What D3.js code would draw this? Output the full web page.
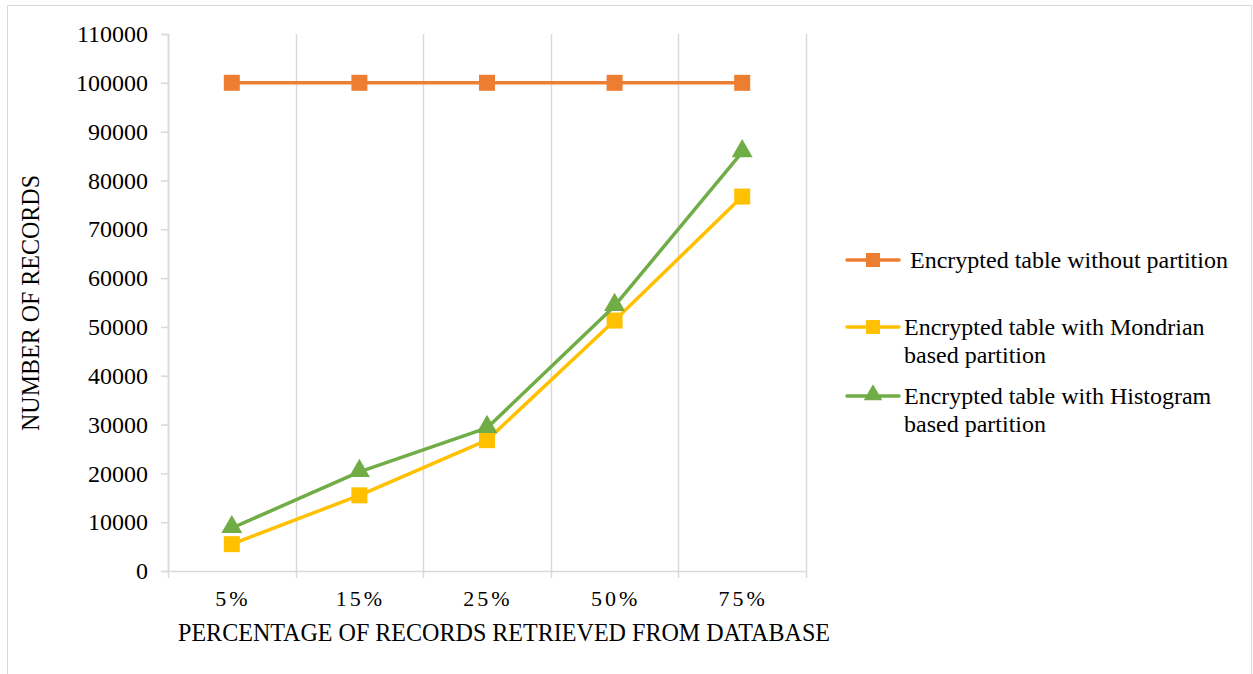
<!DOCTYPE html>
<html>
<head>
<meta charset="utf-8">
<script src="https://cdn.jsdelivr.net/npm/d3@7"></script>
<style>
  body { margin: 0; background: #fff; }
  text { font-family: "Liberation Serif", "Times New Roman", serif; fill: #000; }
</style>
</head>
<body>
<svg id="chart" width="1253" height="674"></svg>
<script>
// data
var categories = ["5%", "15%", "25%", "50%", "75%"];
var withoutPartition = [100000, 100000, 100000, 100000, 100000];
var mondrian = [5500, 15500, 26800, 51300, 76700];
var histogram = [8800, 20300, 29300, 54300, 85800];
var yTicks = [0, 10000, 20000, 30000, 40000, 50000, 60000, 70000, 80000, 90000, 100000, 110000];

var seriesNames = [
  ["Encrypted table without partition"],
  ["Encrypted table with Mondrian", "based partition"],
  ["Encrypted table with Histogram", "based partition"]
];
var colors = ["#ED7D31", "#FFC000", "#70AD47"];
var markers = ["square", "square", "triangle"];

var series = [withoutPartition, mondrian, histogram].map(function(vals, i) {
  return { name: seriesNames[i], color: colors[i], marker: markers[i],
           values: vals.map(function(v, j) { return { cat: categories[j], value: v }; }) };
});

var margin = {top: 34, right: 447, bottom: 103, left: 168},
    width = 1253 - margin.left - margin.right,
    height = 674 - margin.top - margin.bottom;

var svg = d3.select("#chart");

// outer frame
svg.append("rect")
  .attr("x", 7.5).attr("y", 5.5)
  .attr("width", 1253 - 9).attr("height", 674 - 4)
  .attr("fill", "none").attr("stroke", "#d9d9d9").attr("stroke-width", 1);

var g = svg.append("g")
  .attr("transform", "translate(" + margin.left + "," + margin.top + ")");

var x = d3.scaleBand().domain(categories).range([0, width]);
var y = d3.scaleLinear().domain([0, 110000]).range([height, 0]);

// vertical gridlines at category boundaries
var bounds = categories.map(function(c) { return x(c); }).concat([width]);
g.selectAll(".vgrid")
  .data(bounds)
  .enter().append("line")
  .attr("class", "vgrid")
  .attr("x1", function(d) { return Math.round(d) + 0.5; })
  .attr("x2", function(d) { return Math.round(d) + 0.5; })
  .attr("y1", 0).attr("y2", height + 7)
  .attr("stroke", "#d9d9d9").attr("stroke-width", 1.5);

// y axis
var yAxis = g.append("g")
  .call(d3.axisLeft(y).tickValues(yTicks).tickSize(7).tickPadding(13)
    .tickFormat(function(d) { return d; }));
yAxis.select(".domain").attr("stroke", "#d9d9d9").attr("stroke-width", 1.5);
yAxis.selectAll(".tick line").attr("stroke", "#d9d9d9").attr("stroke-width", 1.5);
yAxis.selectAll(".tick text")
  .style("font-family", "Liberation Serif, Times New Roman, serif")
  .style("font-size", "24px").attr("fill", "#000");

// x axis line
g.append("line")
  .attr("x1", 0).attr("x2", width)
  .attr("y1", height + 0.5).attr("y2", height + 0.5)
  .attr("stroke", "#d9d9d9").attr("stroke-width", 1.5);

g.selectAll(".xlab")
  .data(categories)
  .enter().append("text")
  .attr("class", "xlab")
  .attr("x", function(d) { return x(d) + x.bandwidth() / 2 + 1; })
  .attr("y", height + 35)
  .attr("text-anchor", "middle")
  .style("font-size", "22px")
  .style("letter-spacing", "3px")
  .text(function(d) { return d; });

// axis titles
svg.append("text")
  .attr("x", 504).attr("y", 641)
  .attr("text-anchor", "middle")
  .attr("textLength", 652).attr("lengthAdjust", "spacingAndGlyphs")
  .style("font-size", "26px")
  .text("PERCENTAGE OF RECORDS RETRIEVED FROM DATABASE");

svg.append("text")
  .attr("transform", "translate(39,303) rotate(-90)")
  .attr("text-anchor", "middle")
  .attr("textLength", 256).attr("lengthAdjust", "spacingAndGlyphs")
  .style("font-size", "25px")
  .text("NUMBER OF RECORDS");

// lines and markers
var line = d3.line()
  .x(function(d) { return x(d.cat) + x.bandwidth() / 2; })
  .y(function(d) { return y(d.value); });

var sq = d3.symbol().type(d3.symbolSquare).size(256);
var tri = d3.symbol().type(d3.symbolTriangle).size(190);

series.forEach(function(s) {
  g.append("path")
    .datum(s.values)
    .attr("fill", "none")
    .attr("stroke", s.color)
    .attr("stroke-width", 3.5)
    .attr("stroke-linejoin", "round")
    .attr("d", line);

  g.selectAll(null)
    .data(s.values)
    .enter().append("path")
    .attr("transform", function(d) {
      return "translate(" + (x(d.cat) + x.bandwidth() / 2) + "," + (y(d.value) + (s.marker === "triangle" ? -1 : 0)) + ")";
    })
    .attr("d", s.marker === "triangle" ? tri : sq)
    .attr("fill", s.color);
});

// legend
var legendRows = [260, 327, 396];
var legend = svg.append("g");
series.forEach(function(s, i) {
  var ly = legendRows[i];
  var tx = i === 0 ? 910 : 904;
  legend.append("line")
    .attr("x1", 847).attr("x2", 899)
    .attr("y1", ly).attr("y2", ly)
    .attr("stroke", s.color).attr("stroke-width", 3.5)
    .attr("stroke-linecap", "round");
  legend.append("path")
    .attr("transform", "translate(873," + (ly + (s.marker === "triangle" ? -1 : 0)) + ")")
    .attr("d", s.marker === "triangle" ? d3.symbol().type(d3.symbolTriangle).size(150)
                                       : d3.symbol().type(d3.symbolSquare).size(196))
    .attr("fill", s.color);
  var t = legend.append("text")
    .attr("x", tx)
    .attr("y", ly + 8)
    .style("font-size", "24px");
  s.name.forEach(function(part, k) {
    t.append("tspan")
      .attr("x", tx)
      .attr("dy", k === 0 ? 0 : 28)
      .text(part);
  });
});
</script>
</body>
</html>
